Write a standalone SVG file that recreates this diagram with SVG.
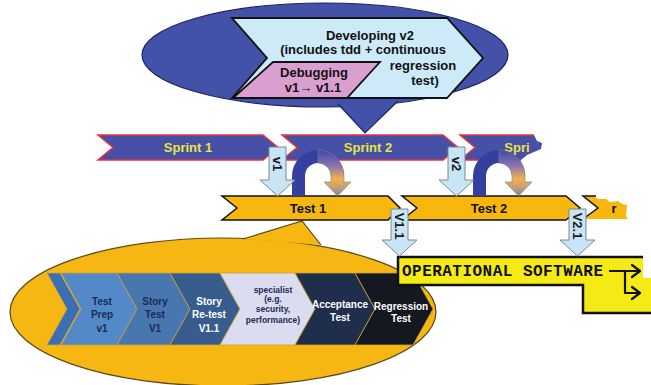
<svg xmlns="http://www.w3.org/2000/svg" width="651" height="385" viewBox="0 0 651 385">
<style>
.lbl{font-family:"Liberation Sans",Arial,sans-serif;font-weight:bold;text-anchor:middle}
.sprint{fill:#4650A6;stroke:#E8323C;stroke-width:1.5}
.sprtxt{fill:#E6E63C;font-size:13px}
.test{fill:#F7B70F;stroke:#111;stroke-width:1.5}
.testtxt{fill:#111;font-size:13px}
.down{fill:#C8E5F5;stroke:#7C8894;stroke-width:1}
.downtxt{fill:#1A1A1A;font-size:13px;dominant-baseline:central}
.seg{stroke:#C9A23A;stroke-width:0.8}
.w{fill:#FFFFFF;font-size:10px}
.d{fill:#1B2A55;font-size:10px}
.s{fill:#1B2A55;font-size:8.5px}
</style>
<defs>
<linearGradient id="curveGrad" x1="0" y1="0" x2="0" y2="1">
<stop offset="0" stop-color="#3E48A6"/>
<stop offset="0.35" stop-color="#8C74B0"/>
<stop offset="0.62" stop-color="#F2B04C"/>
<stop offset="0.8" stop-color="#C9A070"/>
<stop offset="1" stop-color="#7A84A8"/>
</linearGradient>
</defs>

<!-- top callout -->
<g id="callout-dev">
<ellipse cx="325" cy="55" rx="183" ry="52" fill="#4352A8" stroke="#1E2466" stroke-width="1.2"/>
<path d="M338,104 L365,133 L398,101" fill="#4352A8" stroke="#1E2466" stroke-width="1.2"/>
<polygon points="232,18 447,18 483,58 447,98 232,98 267,58" fill="#CDEAF8" stroke="#111" stroke-width="1.8"/>
<polygon points="273,62 380,62 347,98 233,98" fill="#D9A0CF" stroke="#111" stroke-width="1.8"/>
<text class="lbl" x="370" y="40" font-size="13" fill="#111">Developing v2</text>
<text class="lbl" x="363" y="54" font-size="13" fill="#111">(includes tdd + continuous</text>
<text class="lbl" x="423" y="70" font-size="13" fill="#111">regression</text>
<text class="lbl" x="425" y="85" font-size="13" fill="#111">test)</text>
<text class="lbl" x="314" y="77" font-size="13" fill="#111">Debugging</text>
<text class="lbl" x="313" y="92" font-size="13" fill="#111">v1→ v1.1</text>
</g>

<!-- sprints -->
<g id="sprint1">
<polygon class="sprint" points="98,135 263,135 278,147.5 263,160 98,160 113,147.5"/>
<text class="lbl sprtxt" x="188" y="152">Sprint 1</text>
</g>
<g id="sprint2">
<polygon class="sprint" points="282,135 443,135 458,147.5 443,160 282,160 297,147.5"/>
<text class="lbl sprtxt" x="368" y="152">Sprint 2</text>
</g>
<g id="sprint3">
<path d="M460,135 L534,135 L537,141 L542,143 L541,149 L534,152 L527,155 L521,160 L460,160 L475,147.5 Z" fill="#4650A6"/>
<path d="M534,135 L460,135 L475,147.5 L460,160 L521,160" fill="none" stroke="#E8323C" stroke-width="1.5"/>
<text class="lbl sprtxt" x="517" y="152">Spri</text>
</g>

<!-- lower callout -->
<g id="callout-test">
<ellipse cx="223" cy="312" rx="213" ry="74" fill="#F7B713" stroke="#5A4A1A" stroke-width="1.2"/>
<path d="M243,239 L302,221 L321,245" fill="#F7B713" stroke="#5A4A1A" stroke-width="1.2"/>
</g>

<!-- tests -->
<g id="test1">
<polygon class="test" points="222,196 388,196 400,208 388,220 222,220 237,208"/>
<text class="lbl testtxt" x="308" y="213">Test 1</text>
</g>
<g id="test2">
<polygon class="test" points="402,196 566,196 580,208 566,220 402,220 417,208"/>
<text class="lbl testtxt" x="489" y="213">Test 2</text>
</g>
<g id="test3">
<path d="M583,196 L594,196 L598,199 L606,199 L610,202 L618,201 L622,204 L627,205 L626,216 L628,219 L583,219 L598,208 Z" fill="#F7B70F"/>
<path d="M596,196 L583,196 L598,208 L583,219" fill="none" stroke="#111" stroke-width="1.5"/>
<text class="lbl testtxt" x="614" y="213">r</text>
</g>

<!-- chevron process -->
<g id="process">
<polygon class="seg" fill="#3B6FB4" points="47,273 60,273 80,309 60,345 47,345 67,309"/>
<g id="seg-testprep">
<polygon class="seg" fill="#5389C8" points="61,273 117,273 137,309 117,345 61,345 81,309"/>
<text class="lbl d" x="102" y="305">Test</text>
<text class="lbl d" x="102" y="318">Prep</text>
<text class="lbl d" x="102" y="332">v1</text>
</g>
<g id="seg-storytest">
<polygon class="seg" fill="#4876AF" points="117,273 170,273 190,309 170,345 117,345 137,309"/>
<text class="lbl d" x="155" y="305">Story</text>
<text class="lbl d" x="155" y="318">Test</text>
<text class="lbl d" x="155" y="332">V1</text>
</g>
<g id="seg-retest">
<polygon class="seg" fill="#385C8E" points="170,273 220,273 240,309 220,345 170,345 190,309"/>
<text class="lbl w" x="209" y="305">Story</text>
<text class="lbl w" x="209" y="318">Re-test</text>
<text class="lbl w" x="209" y="332">V1.1</text>
</g>
<g id="seg-specialist">
<polygon class="seg" fill="#DCDCF0" points="220,273 295,273 315,309 295,345 220,345 240,309"/>
<text class="lbl s" x="273" y="293">specialist</text>
<text class="lbl s" x="273" y="302">(e.g.</text>
<text class="lbl s" x="273" y="312">security,</text>
<text class="lbl s" x="273" y="323">performance)</text>
</g>
<g id="seg-acceptance">
<polygon class="seg" fill="#1F2E4C" points="295,273 355,273 375,309 355,345 295,345 315,309"/>
<text class="lbl w" x="340" y="308">Acceptance</text>
<text class="lbl w" x="340" y="321">Test</text>
</g>
<g id="seg-regression">
<polygon class="seg" fill="#141821" points="355,273 413,273 433,309 413,345 355,345 375,309"/>
<text class="lbl w" x="401" y="310">Regression</text>
<text class="lbl w" x="401" y="322">Test</text>
</g>
</g>

<!-- operational software -->
<g id="operational">
<path d="M398,257 L643,257 L643,278 L655,278 L655,313 L583,313 L583,285 L398,285 Z" fill="#F6EA16"/>
<path d="M643,257 L398,257 L398,285 L583,285 L583,313 L655,313" fill="none" stroke="#111" stroke-width="2.5"/>
<text x="402" y="276" font-family="'Liberation Mono','Courier New',monospace" font-weight="bold" font-size="16" textLength="201" fill="#111">OPERATIONAL SOFTWARE</text>
</g>

<!-- connectors -->
<g id="connectors">
<g id="loop1">
<path d="M292,196 L292,176 A26,26 0 0 1 344,176 L331,176 A13,13 0 0 0 305,176 L305,196 Z" fill="#3340A0"/>
<path d="M318,150 A26,26 0 0 1 344,176 L344,182 L351,182 L337.5,196 L324,182 L331,182 L331,176 A13,13 0 0 0 318,163 Z" fill="url(#curveGrad)" stroke="#7A7E98" stroke-width="0.6"/>
</g>
<g id="loop2" transform="translate(181,0)">
<path d="M292,196 L292,176 A26,26 0 0 1 344,176 L331,176 A13,13 0 0 0 305,176 L305,196 Z" fill="#3340A0"/>
<path d="M318,150 A26,26 0 0 1 344,176 L344,182 L351,182 L337.5,196 L324,182 L331,182 L331,176 A13,13 0 0 0 318,163 Z" fill="url(#curveGrad)" stroke="#7A7E98" stroke-width="0.6"/>
</g>
<g id="arrow-v1">
<path class="down" d="M269,147 L286,147 L286,180 L295,180 L277.5,196 L260,180 L269,180 Z"/>
<text class="lbl downtxt" transform="translate(277.5,164) rotate(90)">v1</text>
</g>
<g id="arrow-v2">
<path class="down" d="M448,147 L465,147 L465,180 L474,180 L456.5,196 L439,180 L448,180 Z"/>
<text class="lbl downtxt" transform="translate(456.5,164) rotate(90)">v2</text>
</g>
<g id="arrow-v11">
<path class="down" d="M391,209 L408,209 L408,240 L417,240 L399.5,256 L382,240 L391,240 Z"/>
<text class="lbl downtxt" transform="translate(399.5,226) rotate(90)">V1.1</text>
</g>
<g id="arrow-v21">
<path class="down" d="M569,209 L586,209 L586,240 L595,240 L577.5,256 L560,240 L569,240 Z"/>
<text class="lbl downtxt" transform="translate(577.5,226) rotate(90)">V2.1</text>
</g>
<g id="out-arrows" fill="none" stroke="#111" stroke-width="2.2" stroke-linecap="round" stroke-linejoin="round">
<path d="M610,271 L640,271 M632,265 L640,271 L632,277"/>
<path d="M625,271 L625,293 L640,293 M632,287 L640,293 L632,299"/>
</g>
</g>
</svg>
